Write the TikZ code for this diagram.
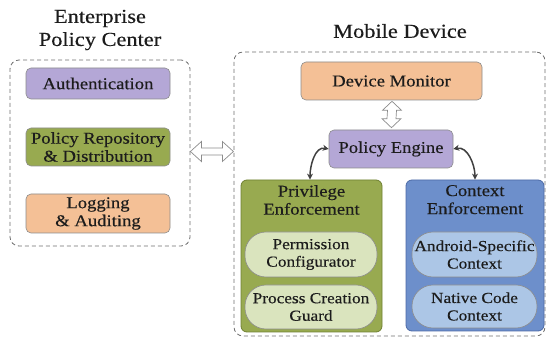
\documentclass[tikz,border=0pt]{standalone}
\usepackage{fontspec}
\setmainfont{Liberation Serif}[FakeStretch=1.13, FakeBold=0.35]
\usetikzlibrary{arrows.meta,positioning,calc}

\definecolor{inkc}{HTML}{1C1C1C}
\definecolor{framec}{HTML}{6F6F6F}
\definecolor{edgec}{HTML}{8C8C8C}
\definecolor{purplec}{HTML}{B4A7D6}
\definecolor{greenc}{HTML}{98AA50}
\definecolor{greenedge}{HTML}{6F8032}
\definecolor{orangec}{HTML}{F4C096}
\definecolor{bluec}{HTML}{6D8FCB}
\definecolor{blueedge}{HTML}{4C6AA6}
\definecolor{lgreenc}{HTML}{DAE4BE}
\definecolor{lbluec}{HTML}{ACC6E6}
\definecolor{linkc}{HTML}{404040}

\tikzset{
  boxfont/.style={font=\fontsize{16.5}{18}\selectfont, text=inkc},
  smallfont/.style={font=\fontsize{15.3}{17.5}\selectfont, text=inkc},
  titlefont/.style={font=\fontsize{19.8}{23}\selectfont, text=inkc, align=center},
  group/.style={draw=framec, dashed, dash pattern=on 4pt off 3pt, line width=0.8pt, rounded corners=9pt},
  module/.style={boxfont, draw=edgec, line width=0.6pt, rounded corners=5pt, align=center, inner sep=0pt},
  panel/.style={draw=#1, line width=0.8pt, rounded corners=6pt, inner sep=0pt},
  pill/.style={smallfont, draw=edgec, line width=0.6pt, rounded corners=21pt, align=center, inner sep=0pt},
  openarrow/.style={draw=edgec, fill=white, line width=0.7pt, line join=miter},
  link/.style={draw=linkc, line width=1.5pt, {Stealth[length=6pt,width=6pt]}-{Stealth[length=6pt,width=6pt]}},
}

\begin{document}
\begin{tikzpicture}[x=1pt, y=-1pt]
\useasboundingbox (0,0) rectangle (550,339);

% Enterprise side
\node[titlefont] (etitle) at (100,30) {Enterprise\\Policy Center};
\node[group, minimum width=180pt, minimum height=186pt] (epc) at (100,153) {};
\node[module, fill=purplec, minimum width=144pt, minimum height=31pt] (auth) at (98,83.5) {Authentication};
\node[module, fill=greenc, minimum width=144pt, minimum height=38pt] (repo) at (98,147) {Policy Repository\\\& Distribution};
\node[module, fill=orangec, minimum width=144pt, minimum height=39pt] (logs) at (98,213.5) {Logging\\\& Auditing};

% Mobile side
\node[titlefont] (mtitle) at (400,31) {Mobile Device};
\node[group, minimum width=311pt, minimum height=284pt] (dev) at (389.5,194) {};
\node[module, fill=orangec, minimum width=181pt, minimum height=38pt] (monitor) at (391.5,81) {Device Monitor};
\node[module, fill=purplec, minimum width=124pt, minimum height=38pt] (engine) at (391,149) {Policy Engine};

\node[panel=greenedge, fill=greenc, minimum width=141pt, minimum height=152pt] (priv) at (311.5,256) {};
\node[boxfont, align=center, anchor=north] (privt) at ($(priv.north)+(0,2)$) {Privilege\\Enforcement};
\node[pill, fill=lgreenc, minimum width=132pt, minimum height=45pt] (perm) at (311,254.5) {Permission\\Configurator};
\node[pill, fill=lgreenc, minimum width=132pt, minimum height=44pt] (guard) at (311,307) {Process Creation\\Guard};

\node[panel=blueedge, fill=bluec, minimum width=138pt, minimum height=151pt] (ctx) at (475,255.5) {};
\node[boxfont, align=center, anchor=north] (ctxt) at ($(ctx.north)+(0,2)$) {Context\\Enforcement};
\node[pill, fill=lbluec, minimum width=125pt, minimum height=45pt] (andr) at (474.5,254.5) {Android-Specific\\Context};
\node[pill, fill=lbluec, minimum width=125pt, minimum height=43pt] (native) at (474.5,306.5) {Native Code\\Context};

% hollow double arrow between the two sides
\coordinate (hl) at ($(epc.east)+(0,-1.5)$);
\coordinate (hr) at ($(hl)+(43,0)$);
\path[openarrow] (hl) -- ++(11,-10) -- ++(0,6.5) -- ($(hr)+(-11,-3.5)$) -- ++(0,-6.5) -- (hr)
  -- ++(-11,10) -- ++(0,-6.5) -- ($(hl)+(11,3.5)$) -- ++(0,6.5) -- cycle;

% hollow double arrow between monitor and engine
\coordinate (vt) at ($(monitor.south)+(0.5,1)$);
\coordinate (vb) at ($(engine.north)+(0.5,-2)$);
\path[openarrow] (vt) -- ++(9.5,9) -- ++(-5,0) -- ($(vb)+(4.5,-9)$) -- ++(5,0) -- (vb)
  -- ++(-9.5,-9) -- ++(5,0) -- ($(vt)+(-4.5,9)$) -- ++(-5,0) -- cycle;

% engine links to the two enforcement panels
\coordinate (privin) at ($(priv.north)+(-1.5,0)$);
\coordinate (ctxin) at (ctx.north);
\draw[link] (engine.west) to[out=168,in=90] (privin);
\draw[link] (engine.east) to[out=12,in=90] (ctxin);
\end{tikzpicture}
\end{document}
